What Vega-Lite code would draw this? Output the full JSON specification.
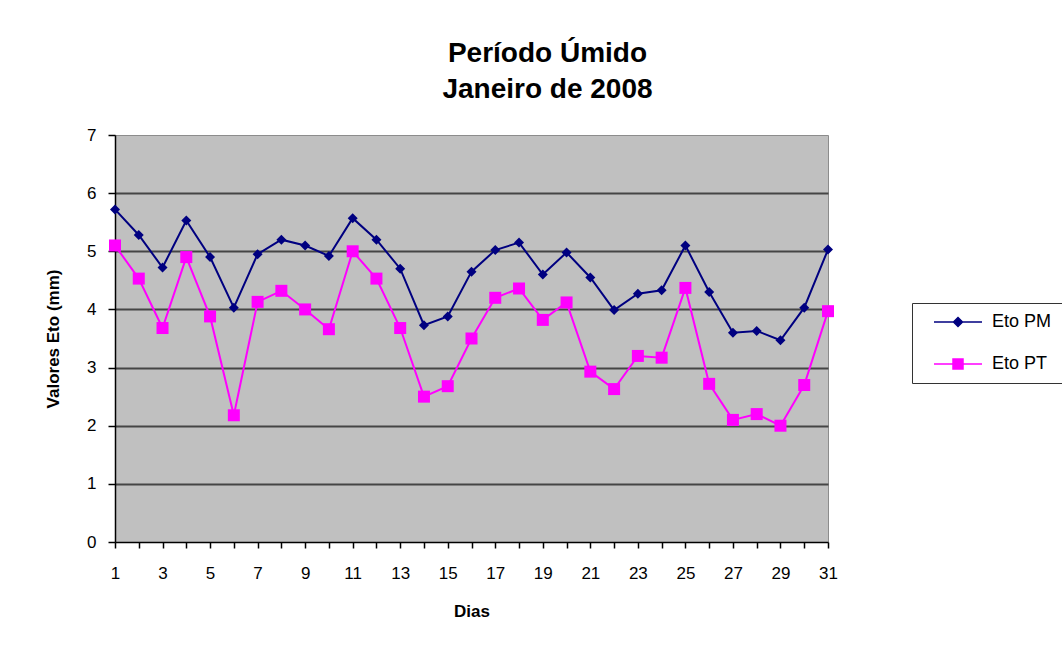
{
  "$schema": "https://vega.github.io/schema/vega-lite/v6.json",
  "width": 713,
  "height": 407,
  "autosize": {"type": "none"},
  "padding": {"left": 115, "top": 135, "right": 234, "bottom": 124},
  "background": "white",
  "title": {
    "text": ["Período Úmido", "Janeiro de 2008"],
    "font": "Liberation Sans",
    "fontSize": 28,
    "fontWeight": "bold",
    "color": "#000000",
    "lineHeight": 36,
    "anchor": "middle",
    "dx": 76,
    "offset": 22
  },
  "config": {
    "font": "Liberation Sans",
    "view": {"fill": "#C0C0C0", "stroke": "#8c8c8c", "strokeWidth": 1}
  },
  "data": {
    "values": [
      {"dia": 1, "Eto PM": 5.72, "Eto PT": 5.10},
      {"dia": 2, "Eto PM": 5.28, "Eto PT": 4.53},
      {"dia": 3, "Eto PM": 4.72, "Eto PT": 3.68},
      {"dia": 4, "Eto PM": 5.53, "Eto PT": 4.90},
      {"dia": 5, "Eto PM": 4.90, "Eto PT": 3.88},
      {"dia": 6, "Eto PM": 4.03, "Eto PT": 2.18},
      {"dia": 7, "Eto PM": 4.95, "Eto PT": 4.13},
      {"dia": 8, "Eto PM": 5.20, "Eto PT": 4.32},
      {"dia": 9, "Eto PM": 5.10, "Eto PT": 4.00},
      {"dia": 10, "Eto PM": 4.92, "Eto PT": 3.66},
      {"dia": 11, "Eto PM": 5.57, "Eto PT": 5.00},
      {"dia": 12, "Eto PM": 5.20, "Eto PT": 4.53},
      {"dia": 13, "Eto PM": 4.70, "Eto PT": 3.68},
      {"dia": 14, "Eto PM": 3.73, "Eto PT": 2.50},
      {"dia": 15, "Eto PM": 3.88, "Eto PT": 2.68},
      {"dia": 16, "Eto PM": 4.65, "Eto PT": 3.50},
      {"dia": 17, "Eto PM": 5.02, "Eto PT": 4.20},
      {"dia": 18, "Eto PM": 5.15, "Eto PT": 4.36},
      {"dia": 19, "Eto PM": 4.60, "Eto PT": 3.82},
      {"dia": 20, "Eto PM": 4.98, "Eto PT": 4.12},
      {"dia": 21, "Eto PM": 4.55, "Eto PT": 2.93},
      {"dia": 22, "Eto PM": 3.99, "Eto PT": 2.63},
      {"dia": 23, "Eto PM": 4.27, "Eto PT": 3.20},
      {"dia": 24, "Eto PM": 4.33, "Eto PT": 3.17},
      {"dia": 25, "Eto PM": 5.10, "Eto PT": 4.37},
      {"dia": 26, "Eto PM": 4.30, "Eto PT": 2.72},
      {"dia": 27, "Eto PM": 3.60, "Eto PT": 2.10},
      {"dia": 28, "Eto PM": 3.63, "Eto PT": 2.20},
      {"dia": 29, "Eto PM": 3.47, "Eto PT": 2.00},
      {"dia": 30, "Eto PM": 4.03, "Eto PT": 2.70},
      {"dia": 31, "Eto PM": 5.03, "Eto PT": 3.97}
    ]
  },
  "transform": [{"fold": ["Eto PM", "Eto PT"], "as": ["serie", "valor"]}],
  "encoding": {
    "x": {
      "field": "dia",
      "type": "quantitative",
      "scale": {"domain": [1, 31], "nice": false, "zero": false},
      "axis": {
        "title": "Dias",
        "titleFont": "Liberation Sans",
        "titleFontSize": 17,
        "titleFontWeight": "bold",
        "titleColor": "#000000",
        "titlePadding": 22,
        "values": [1,2,3,4,5,6,7,8,9,10,11,12,13,14,15,16,17,18,19,20,21,22,23,24,25,26,27,28,29,30,31],
        "labelExpr": "datum.value % 2 === 1 ? datum.label : ''",
        "labelFont": "Liberation Sans",
        "labelFontSize": 17,
        "labelColor": "#000000",
        "labelPadding": 17,
        "labelFlush": false,
        "labelOverlap": false,
        "grid": false,
        "domainColor": "#000000",
        "domainWidth": 1.5,
        "tickColor": "#000000",
        "tickWidth": 1.5,
        "tickSize": 6
      }
    },
    "y": {
      "field": "valor",
      "type": "quantitative",
      "scale": {"domain": [0, 7], "nice": false},
      "axis": {
        "title": "Valores Eto (mm)",
        "titleFont": "Liberation Sans",
        "titleFontSize": 17,
        "titleFontWeight": "bold",
        "titleColor": "#000000",
        "titlePadding": 24,
        "values": [0,1,2,3,4,5,6,7],
        "labelFont": "Liberation Sans",
        "labelFontSize": 17,
        "labelColor": "#000000",
        "labelPadding": 12,
        "grid": true,
        "gridColor": {"condition": {"test": "datum.value === 7 || datum.value === 0", "value": "transparent"}, "value": "#454545"},
        "gridWidth": 2,
        "domainColor": "#000000",
        "domainWidth": 1.5,
        "tickColor": "#000000",
        "tickWidth": 1.5,
        "tickSize": 7
      }
    }
  },
  "layer": [
    {
      "mark": {"type": "line", "strokeWidth": 2},
      "encoding": {
        "color": {
          "field": "serie",
          "type": "nominal",
          "scale": {"domain": ["Eto PM", "Eto PT"], "range": ["#000080", "#FF00FF"]},
          "legend": {
            "title": null,
            "orient": "none",
            "legendX": 797,
            "legendY": 168,
            "strokeColor": "#333333",
            "fillColor": "#ffffff",
            "padding": 10,
            "labelFont": "Liberation Sans",
            "labelFontSize": 18,
            "labelColor": "#000000",
            "labelOffset": 52,
            "symbolType": "M0.75,0H12.75",
            "symbolSize": 64,
            "symbolStrokeWidth": 1.5,
            "rowPadding": 24,
            "encode": {
              "symbols": {
                "update": {
                  "shape": {"signal": "datum.value === 'Eto PM' ? 'M0.75,0H12.75M6.75,-1.125L7.875,0L6.75,1.125L5.625,0Z' : 'M0.75,0H12.75M5.5,-1.25H8V1.25H5.5Z'"},
                  "fill": {"signal": "datum.value === 'Eto PM' ? '#000080' : '#FF00FF'"},
                  "stroke": {"signal": "datum.value === 'Eto PM' ? '#000080' : '#FF00FF'"},
                  "fillOpacity": {"value": 1},
                  "strokeWidth": {"value": 1.5}
                }
              }
            }
          }
        }
      }
    },
    {
      "transform": [{"filter": "datum.serie === 'Eto PM'"}],
      "mark": {"type": "point", "shape": "diamond", "filled": true, "opacity": 1, "size": 100, "color": "#000080"}
    },
    {
      "transform": [{"filter": "datum.serie === 'Eto PT'"}],
      "mark": {"type": "point", "shape": "square", "filled": true, "opacity": 1, "size": 144, "color": "#FF00FF"}
    }
  ]
}
